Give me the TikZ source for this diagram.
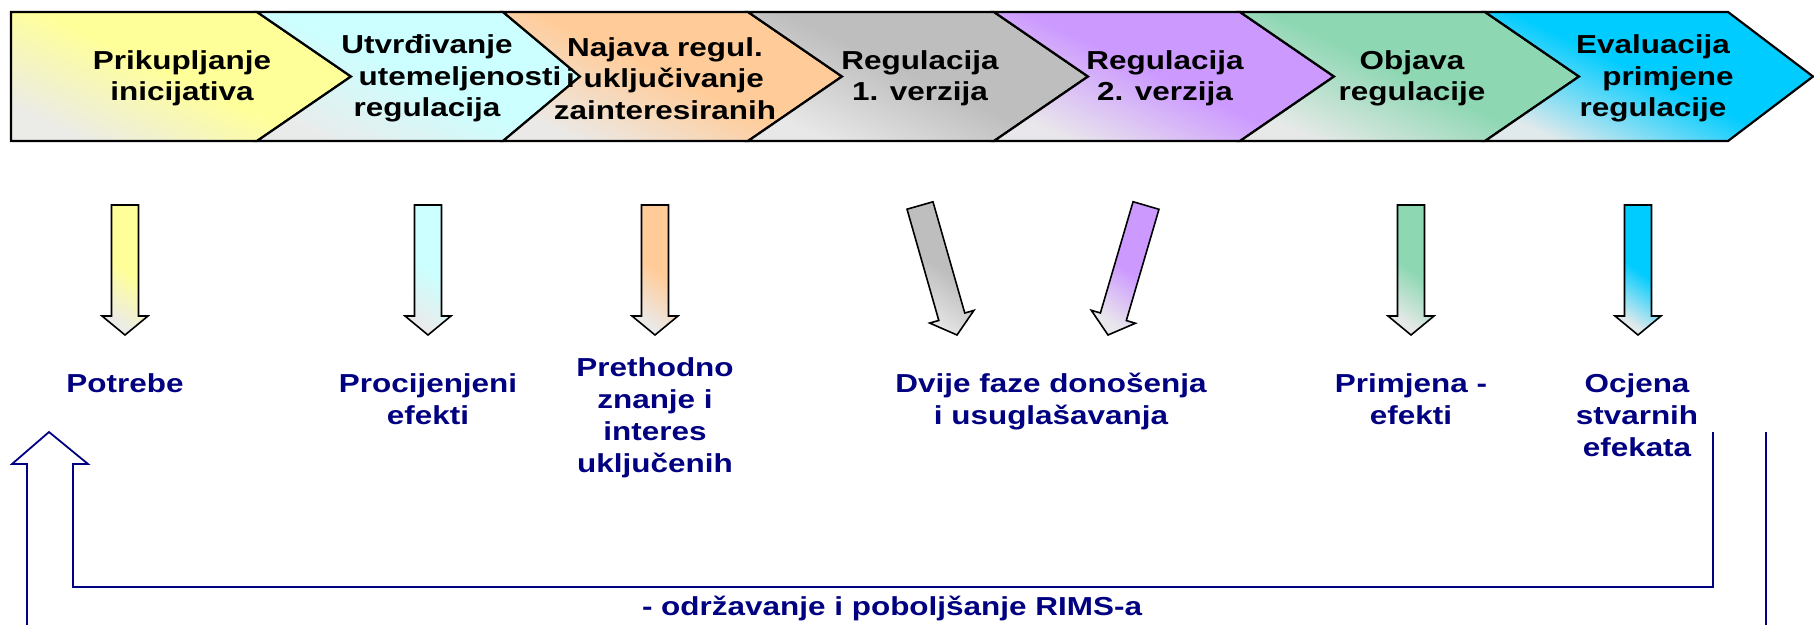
\documentclass[tikz,border=0pt]{standalone}
\usepackage{fontspec}
\setmainfont{Liberation Sans}[FakeStretch=1.21]
\usetikzlibrary{calc}

\definecolor{navy}{HTML}{000080}
\definecolor{stageyel}{HTML}{FFFF99}
\definecolor{stagecy}{HTML}{CCFFFF}
\definecolor{stageora}{HTML}{FFCC99}
\definecolor{stagegry}{HTML}{BEBEBE}
\definecolor{stagepur}{HTML}{CC99FF}
\definecolor{stagegrn}{HTML}{8DD7B3}
\definecolor{stageblu}{HTML}{00CCFF}

\tikzset{
  stage/.style={draw=black, line width=2.2pt, line join=miter,
    top color=#1, bottom color=#1!35!black!12, middle color=#1, shading angle=-25},
  stagetext/.style={font=\fontsize{26}{31.5}\selectfont\bfseries, align=center, inner sep=0pt},
  result/.style={font=\fontsize{26}{32}\selectfont\bfseries, text=navy, align=center,
    inner sep=0pt, anchor=north},
  fatarrow/.style={draw=black, line width=1.6pt, line join=miter,
    top color=#1, bottom color=#1!35!black!12, middle color=#1, shading angle=-35,
    to path={let \p1=($(\tikztotarget)-(\tikztostart)$), \n1={atan2(\y1,\x1)},
      \n2={veclen(\x1,\y1)} in
      ([shift={(\tikztostart)},rotate=\n1]0pt,13.5pt)
      -- ([shift={(\tikztostart)},rotate=\n1]\n2-19pt,13.5pt)
      -- ([shift={(\tikztostart)},rotate=\n1]\n2-19pt,23pt)
      -- (\tikztotarget)
      -- ([shift={(\tikztostart)},rotate=\n1]\n2-19pt,-23pt)
      -- ([shift={(\tikztostart)},rotate=\n1]\n2-19pt,-13.5pt)
      -- ([shift={(\tikztostart)},rotate=\n1]0pt,-13.5pt) -- cycle}},
  feedback/.style={draw=navy, line width=1.8pt, line join=miter}
}

\begin{document}
\begin{tikzpicture}[x=1pt,y=-1pt]
  \useasboundingbox (0,0) rectangle (1814,624);

  % process stages
  \draw[stage=stageyel] (11,12) -- (257,12) -- (351,76.5) -- (257,141) -- (11,141) -- cycle;
  \draw[stage=stagecy] (257,12) -- (503,12) -- (580,76.5) -- (503,141) -- (257,141) -- (351,76.5) -- cycle;
  \draw[stage=stageora] (503,12) -- (748,12) -- (842,76.5) -- (748,141) -- (503,141) -- (580,76.5) -- cycle;
  \draw[stage=stagegry] (748,12) -- (994,12) -- (1088,76.5) -- (994,141) -- (748,141) -- (842,76.5) -- cycle;
  \draw[stage=stagepur] (994,12) -- (1240,12) -- (1334,76.5) -- (1240,141) -- (994,141) -- (1088,76.5) -- cycle;
  \draw[stage=stagegrn] (1240,12) -- (1485,12) -- (1579,76.5) -- (1485,141) -- (1240,141) -- (1334,76.5) -- cycle;
  \draw[stage=stageblu] (1485,12) -- (1728,12) -- (1813,76.5) -- (1728,141) -- (1485,141) -- (1579,76.5) -- cycle;

  \node[stagetext] (s1) at (182,78.5) {Prikupljanje\\inicijativa};
  \node[stagetext] (s2) at (427,78.5) {Utvrđivanje\\\hspace*{66pt}utemeljenosti\\regulacija};
  \node[stagetext] (s3) at (665,78.5) {Najava regul.\\i uključivanje\\zainteresiranih};
  \node[stagetext] (s4) at (920,78.5) {Regulacija\\1. verzija};
  \node[stagetext] (s5) at (1165,78.5) {Regulacija\\2. verzija};
  \node[stagetext] (s6) at (1412,78.5) {Objava\\regulacije};
  \node[stagetext] (s7) at (1653,78.5) {Evaluacija\\\hspace*{30pt}primjene\\regulacije};

  % outcomes
  \node[result] (r1) at (125,373) {Potrebe};
  \node[result] (r2) at (428,373) {Procijenjeni\\efekti};
  \node[result] (r3) at (655,357) {Prethodno\\znanje i\\interes\\uključenih};
  \node[result] (r4) at (1051,373) {Dvije faze donošenja\\i usuglašavanja};
  \node[result] (r5) at (1411,373) {Primjena -\\efekti};
  \node[result] (r6) at (1637,373) {Ocjena\\stvarnih\\efekata};

  % arrows stage -> outcome
  \coordinate (a1) at (125,205);  \coordinate (b1) at (125,335);
  \coordinate (a2) at (428,205);  \coordinate (b2) at (428,335);
  \coordinate (a3) at (655,205);  \coordinate (b3) at (655,335);
  \coordinate (a4) at (920,205.5);  \coordinate (b4) at (957,335);
  \coordinate (a5) at (1146,205.5); \coordinate (b5) at (1108,335);
  \coordinate (a6) at (1411,205); \coordinate (b6) at (1411,335);
  \coordinate (a7) at (1638,205); \coordinate (b7) at (1638,335);
  \draw[fatarrow=stageyel] (a1) to (b1);
  \draw[fatarrow=stagecy] (a2) to (b2);
  \draw[fatarrow=stageora] (a3) to (b3);
  \draw[fatarrow=stagegry] (a4) to (b4);
  \draw[fatarrow=stagepur] (a5) to (b5);
  \draw[fatarrow=stagegrn] (a6) to (b6);
  \draw[fatarrow=stageblu] (a7) to (b7);

  % feedback loop
  \coordinate (back in) at (1713,432);
  \coordinate (back out) at (1766,630);
  \coordinate (back tip) at (49,432);
  \draw[feedback] (back in) |- (73,587) -- (73,464) -- (88,464) -- (back tip)
    -- (12,464) -- (27,464) -- (27,630);
  \draw[feedback] (back out) -- (1766,432);
  \node[result, anchor=base] (upkeep) at (892,615) {- održavanje i poboljšanje RIMS-a};
\end{tikzpicture}
\end{document}
